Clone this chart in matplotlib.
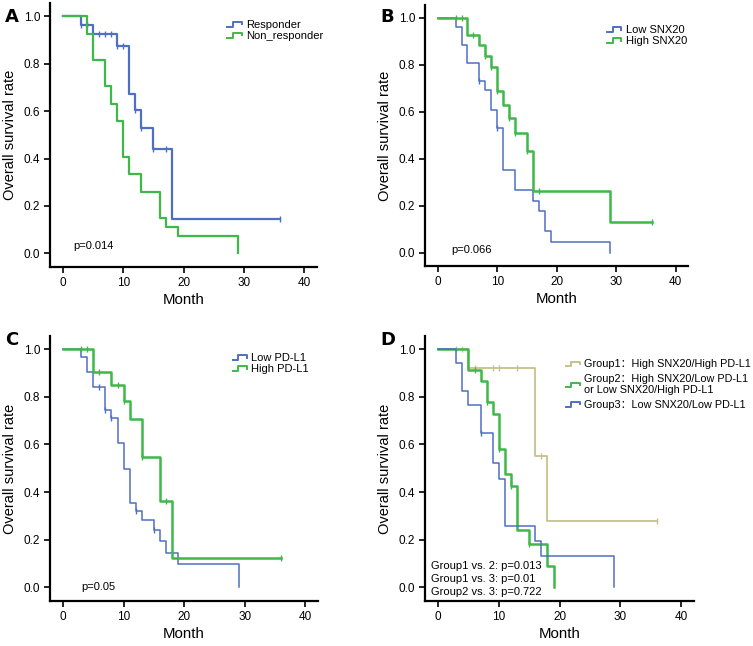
import numpy as np
import matplotlib
matplotlib.use('Agg')
import matplotlib.pyplot as plt
from matplotlib.lines import Line2D
from matplotlib.legend_handler import HandlerBase

plt.rcParams['font.family'] = ['Liberation Sans', 'Noto Sans CJK SC', 'DejaVu Sans']

# ---- data: step times / survival, censor times ----
# panel A
resp_t = [0, 3, 5, 9, 11, 12, 13, 15, 18, 36]
resp_s = [1, 0.963, 0.926, 0.875, 0.673, 0.606, 0.530, 0.442, 0.147, 0.147]
resp_c = [3, 4, 6, 7, 8, 9, 10, 12, 13, 15, 17, 36]
nonr_t = [0, 4, 5, 7, 8, 9, 10, 11, 13, 16, 17, 19, 29]
nonr_s = [1, 0.926, 0.815, 0.704, 0.630, 0.556, 0.407, 0.333, 0.259, 0.148, 0.111, 0.074, 0.0]
nonr_c = []

# panel B
lsnx_t = [0, 3, 4, 5, 7, 8, 9, 10, 11, 13, 16, 17, 18, 19, 29]
lsnx_s = [1, 0.962, 0.885, 0.808, 0.731, 0.692, 0.609, 0.529, 0.353, 0.265, 0.220, 0.176, 0.090, 0.044, 0.0]
lsnx_c = [7, 10]
hsnx_t = [0, 5, 7, 8, 9, 10, 11, 12, 13, 15, 16, 29, 36]
hsnx_s = [1, 0.926, 0.883, 0.837, 0.792, 0.687, 0.629, 0.573, 0.509, 0.435, 0.261, 0.131, 0.131]
hsnx_c = [3, 4, 6, 8, 9, 10, 12, 13, 15, 17, 36]

# panel C
lpd_t = [0, 3, 4, 5, 7, 8, 9, 10, 11, 12, 13, 15, 16, 17, 19, 29]
lpd_s = [1, 0.968, 0.905, 0.843, 0.744, 0.712, 0.606, 0.499, 0.355, 0.319, 0.281, 0.241, 0.193, 0.145, 0.097, 0.0]
lpd_c = [6, 7, 8, 12, 15]
hpd_t = [0, 5, 8, 10, 11, 13, 16, 18, 36]
hpd_s = [1, 0.905, 0.849, 0.782, 0.705, 0.548, 0.364, 0.122, 0.122]
hpd_c = [3, 4, 6, 9, 10, 13, 17, 36]

# panel D
g1_t = [0, 5, 16, 18, 36]
g1_s = [1, 0.922, 0.553, 0.277, 0.277]
g1_c = [3, 4, 6, 9, 10, 13, 17, 36]
g2_t = [0, 5, 7, 8, 9, 10, 11, 12, 13, 15, 18, 19]
g2_s = [1, 0.913, 0.866, 0.776, 0.729, 0.582, 0.476, 0.424, 0.242, 0.181, 0.091, 0.0]
g2_c = [6, 8, 10, 12, 15]
g3_t = [0, 3, 4, 5, 7, 9, 10, 11, 16, 17, 29]
g3_s = [1, 0.94, 0.823, 0.767, 0.648, 0.521, 0.457, 0.259, 0.195, 0.13, 0.0]
g3_c = [7]

blue = '#4f6fc2'
green = '#3fb84a'
beige = '#c8c08c'


class StepHandler(HandlerBase):
    def create_artists(self, legend, orig, xd, yd, w, h, fontsize, trans):
        xs = np.array([0, 0.4, 0.4, 1.0, 1.0]) * w - xd
        ys = np.array([0.15, 0.15, 0.75, 0.75, 0.45]) * h - yd
        ln = Line2D(xs, ys, color=orig.get_color(), lw=1.4)
        ln.set_transform(trans)
        return [ln]


def km(ax, t, s, c, clr, lw, lab):
    ln, = ax.plot(t, s, color=clr, lw=lw, drawstyle='steps-post', label=lab)
    if len(c) > 0:
        cy = [s[np.searchsorted(t, x, side='right') - 1] for x in c]
        ax.plot(c, cy, '|', color=clr, ms=4, mew=1.0)
    return ln


def style(ax):
    ax.set_xlim([-2.15, 42.1])
    ax.set_ylim([-0.057, 1.055])
    ax.set_xticks([0, 10, 20, 30, 40])
    ax.set_yticks([0, 0.2, 0.4, 0.6, 0.8, 1.0])
    ax.set_yticklabels(['0.0', '0.2', '0.4', '0.6', '0.8', '1.0'])
    for sp in ['top', 'right']:
        ax.spines[sp].set_visible(False)
    for sp in ['left', 'bottom']:
        ax.spines[sp].set_linewidth(1.6)
    ax.tick_params(direction='out', length=4, width=1.2, labelsize=8.5, pad=3)
    ax.set_xlabel('Month', fontsize=10.8, labelpad=3)
    ax.set_ylabel('Overall survival rate', fontsize=10.5, labelpad=5)


def leg(ax, x, y, fs, sp):
    ax.legend(loc='upper left', bbox_to_anchor=(x, y), frameon=False, fontsize=fs,
              handler_map={Line2D: StepHandler()}, handlelength=1.3, handletextpad=0.4,
              labelspacing=sp, borderaxespad=0.3)


W, H = 753, 646
fig = plt.figure(figsize=(W / 100, H / 100), dpi=100)


def box(l, r, t, b):
    return [l / W, (H - b) / H, (r - l) / W, (b - t) / H]


axA = fig.add_axes(box(50, 317, 3, 267))
axB = fig.add_axes(box(425, 688, 5, 266))
axC = fig.add_axes(box(50, 318, 336, 601))
axD = fig.add_axes(box(425, 694, 336, 601))

# A
km(axA, resp_t, resp_s, resp_c, blue, 1.6, 'Responder')
km(axA, nonr_t, nonr_s, nonr_c, green, 1.6, 'Non_responder')
style(axA)
axA.text(1.7, 0.03, 'p=0.014', fontsize=8, va='center')
leg(axA, 0.635, 0.966, 8, 0.1)

# B
km(axB, lsnx_t, lsnx_s, lsnx_c, blue, 1.1, 'Low SNX20')
km(axB, hsnx_t, hsnx_s, hsnx_c, green, 1.8, 'High SNX20')
style(axB)
axB.text(2.2, 0.01, 'p=0.066', fontsize=8, va='center')
leg(axB, 0.662, 0.953, 8, 0.1)

# C
km(axC, lpd_t, lpd_s, lpd_c, blue, 1.1, 'Low PD-L1')
km(axC, hpd_t, hpd_s, hpd_c, green, 1.8, 'High PD-L1')
style(axC)
axC.text(3.0, 0.0, 'p=0.05', fontsize=8, va='center')
leg(axC, 0.652, 0.965, 8, 0.1)

# D
km(axD, g1_t, g1_s, g1_c, beige, 1.3, 'Group1：High SNX20/High PD-L1')
km(axD, g2_t, g2_s, g2_c, green, 1.8, 'Group2：High SNX20/Low PD-L1\nor Low SNX20/High PD-L1')
km(axD, g3_t, g3_s, g3_c, blue, 1.1, 'Group3：Low SNX20/Low PD-L1')
style(axD)
axD.text(-1.1, 0.09, 'Group1 vs. 2: p=0.013', fontsize=8, va='center')
axD.text(-1.1, 0.035, 'Group1 vs. 3: p=0.01', fontsize=8, va='center')
axD.text(-1.1, -0.018, 'Group2 vs. 3: p=0.722', fontsize=8, va='center')
leg(axD, 0.495, 0.94, 7.8, 0.4)

# panel letters
for lab, x, y in [('A', 5, 17), ('B', 380, 17), ('C', 5, 340), ('D', 380, 340)]:
    fig.text(x / W, 1 - y / H, lab, fontsize=13, fontweight='bold', va='center', ha='left',
             family=['DejaVu Sans'])

fig.savefig('out.png', dpi=100)
